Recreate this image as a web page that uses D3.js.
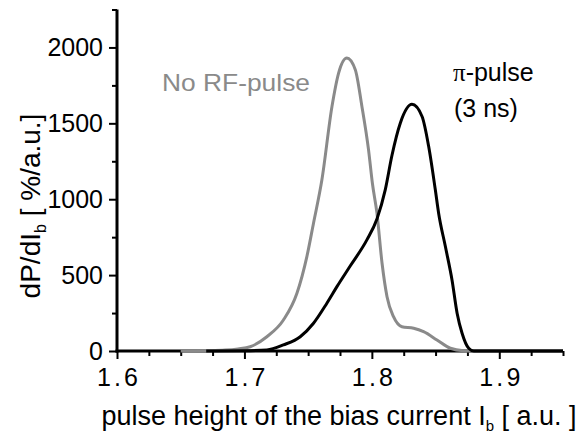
<!DOCTYPE html>
<html>
<head>
<meta charset="utf-8">
<script src="https://cdn.jsdelivr.net/npm/d3@7"></script>
<style>
  body { margin: 0; background: #fff; }
  text { font-family: "Liberation Sans", Arial, sans-serif; }
</style>
</head>
<body>
<div id="chart"></div>
<script>
// pulse height (a.u.) vs dP/dIb (%/a.u.)
const noRfX = [1.650, 1.670, 1.685, 1.695, 1.7045, 1.7176, 1.7306, 1.7412, 1.749, 1.7542, 1.7608, 1.7687, 1.7739, 1.7804, 1.787, 1.7922, 1.7974, 1.8005, 1.804, 1.808, 1.8119, 1.817, 1.8236, 1.8328, 1.8406, 1.8511, 1.8616, 1.872, 1.880];
const noRfY = [0, 2, 6, 14, 28, 94, 204, 380, 622, 842, 1128, 1611, 1831, 1930, 1853, 1611, 1325, 1100, 908, 578, 358, 226, 160, 150, 127, 73, 18, 2, 0];

const piX = [1.670, 1.700, 1.7176, 1.7306, 1.7438, 1.7542, 1.7647, 1.7726, 1.783, 1.7961, 1.804, 1.8105, 1.8158, 1.8223, 1.8315, 1.8394, 1.8446, 1.8498, 1.8524, 1.8577, 1.8629, 1.8669, 1.8708, 1.876, 1.880, 1.950];
const piY = [0, 2, 7, 40, 94, 183, 315, 424, 560, 732, 870, 1062, 1290, 1501, 1625, 1545, 1347, 1062, 908, 688, 468, 249, 117, 18, 0, 0];

const xMajor = [1.6, 1.7, 1.8, 1.9];
const yMajor = [0, 500, 1000, 1500, 2000];

const width = 584, height = 434;

const svg = d3.select("#chart")
  .append("svg")
  .attr("width", width)
  .attr("height", height);

const x = d3.scaleLinear().domain([1.6, 1.95]).range([117, 563]);
const y = d3.scaleLinear().domain([0, 2250]).range([351, 9.5]);

// minor ticks
const xMinor = d3.range(0, 15).map(i => 1.6 + i * 0.025).filter(v => !xMajor.some(m => Math.abs(m - v) < 1e-6));
const yMinor = d3.range(0, 10).map(i => i * 250).filter(v => !yMajor.includes(v));

const xAxis = svg.append("g").attr("transform", "translate(0,351)");
xAxis.append("g").call(d3.axisBottom(x).tickValues(xMinor).tickSize(5).tickSizeOuter(0).tickFormat(""));
xAxis.append("g").call(d3.axisBottom(x).tickValues(xMajor).tickSize(8).tickSizeOuter(0).tickPadding(9).tickFormat(d3.format(".1f")));
xAxis.selectAll(".tick text")
  .attr("font-size", 25)
  .attr("fill", "#000")
  .attr("textLength", 41)
  .attr("lengthAdjust", "spacing");

const yAxis = svg.append("g").attr("transform", "translate(117,0)");
yAxis.append("g").call(d3.axisLeft(y).tickValues(yMinor).tickSize(5).tickSizeOuter(0).tickFormat(""));
yAxis.append("g").call(d3.axisLeft(y).tickValues(yMajor).tickSize(8).tickSizeOuter(0).tickPadding(6).tickFormat(d3.format("d")));
yAxis.selectAll(".tick text").attr("font-size", 25).attr("fill", "#000");

svg.selectAll(".domain").remove();
svg.selectAll(".tick line").attr("stroke-width", 2);

// axis lines drawn on top, thicker
svg.append("line")
  .attr("x1", x(1.6) - 1.5).attr("x2", x(1.95))
  .attr("y1", y(0)).attr("y2", y(0))
  .attr("stroke", "#000").attr("stroke-width", 3);
svg.append("line")
  .attr("x1", x(1.6)).attr("x2", x(1.6))
  .attr("y1", y(0) + 1.5).attr("y2", y(2250))
  .attr("stroke", "#000").attr("stroke-width", 3);

const line = d3.line()
  .x(d => x(d[0]))
  .y(d => y(d[1]))
  .curve(d3.curveMonotoneX);

svg.append("path")
  .datum(d3.zip(noRfX, noRfY))
  .attr("fill", "none")
  .attr("stroke", "#8a8a8a")
  .attr("stroke-width", 3)
  .attr("d", line);

svg.append("path")
  .datum(d3.zip(piX, piY))
  .attr("fill", "none")
  .attr("stroke", "#000")
  .attr("stroke-width", 3)
  .attr("d", line);

// labels
svg.append("text")
  .attr("x", 162).attr("y", 90.5)
  .attr("font-size", 24)
  .attr("fill", "#8a8a8a")
  .attr("textLength", 148)
  .attr("lengthAdjust", "spacingAndGlyphs")
  .text("No RF-pulse");

const piLabel = svg.append("text")
  .attr("x", 453).attr("y", 80.5)
  .attr("font-size", 25);
piLabel.append("tspan").attr("font-family", "'Liberation Serif', serif").text("π");
piLabel.append("tspan").text("-pulse");

svg.append("text")
  .attr("x", 454).attr("y", 117)
  .attr("font-size", 25)
  .text("(3 ns)");

// axis titles
const xTitle = svg.append("text")
  .attr("x", 339).attr("y", 425)
  .attr("text-anchor", "middle")
  .attr("font-size", 27);
xTitle.append("tspan").text("pulse height of the bias current I");
xTitle.append("tspan").attr("font-size", 15).attr("dy", 6).text("b");
xTitle.append("tspan").attr("dy", -6).text(" [ a.u. ]");

const yTitle = svg.append("text")
  .attr("transform", "translate(40,206) rotate(-90)")
  .attr("text-anchor", "middle")
  .attr("font-size", 28);
yTitle.append("tspan").text("dP/dI");
yTitle.append("tspan").attr("font-size", 16).attr("dy", 6).text("b");
yTitle.append("tspan").attr("dy", -6).text("  [ %/a.u.]");
</script>
</body>
</html>
